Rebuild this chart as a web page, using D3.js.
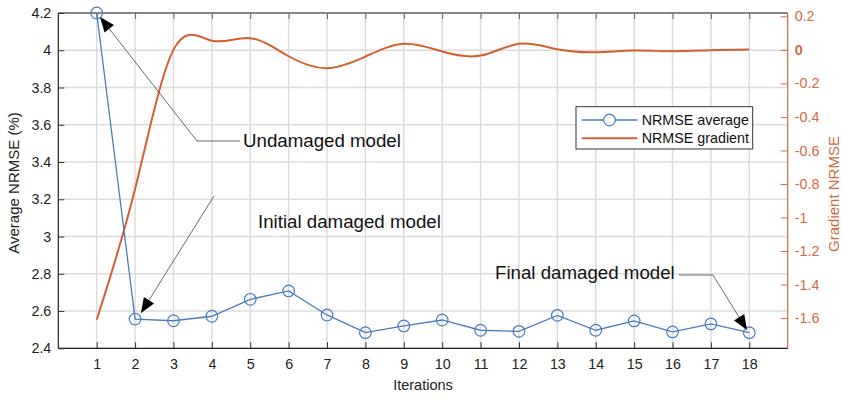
<!DOCTYPE html>
<html><head><meta charset="utf-8">
<script src="https://cdn.jsdelivr.net/npm/d3@7"></script>
<style>body{margin:0;background:#fff}svg{display:block;font-family:"Liberation Sans",Arial,Helvetica,sans-serif}</style>
</head><body><svg id="c" width="842" height="397"></svg>
<script>
const iterations = [1,2,3,4,5,6,7,8,9,10,11,12,13,14,15,16,17,18];
const nrmseAverage = [4.2,2.557,2.548,2.572,2.663,2.708,2.579,2.484,2.52,2.552,2.497,2.491,2.577,2.497,2.547,2.488,2.531,2.484];
const nrmseGradient = [-1.61,-0.83,0.0,0.055,0.07,-0.038,-0.109,-0.04,0.036,-0.01,-0.034,0.036,0.004,-0.014,-0.004,-0.008,-0.002,0.002];
const leftTicks = [2.4,2.6,2.8,3,3.2,3.4,3.6,3.8,4,4.2];
const rightTicks = [0.2,0,-0.2,-0.4,-0.6,-0.8,-1,-1.2,-1.4,-1.6];
const seriesNames = ["NRMSE average","NRMSE gradient"];
const annotations = [
  {text:"Undamaged model", pts:[[240,141],[197,141],[100,17]], tx:243, ty:147},
  {text:"Initial damaged model", pts:[[214,196],[141,313]], tx:258, ty:228},
  {text:"Final damaged model", pts:[[679,275],[713,275],[747,330]], tx:495, ty:279}
];

const blue = "#4a7cc0", orange = "#d4602f", orangeAx = "#d06a40";
const svg = d3.select("#c");
const L = 58.3, R = 787.7, T = 13, B = 348.3;
const x = d3.scaleLinear().domain([0,19]).range([L,R]);
const yL = d3.scaleLinear().domain([2.4,4.2]).range([B,T]);
const yR = d3.scaleLinear().domain([-1.78,0.22]).range([B,T]);

// grid
const g = svg.append("g").attr("stroke","#dcdcdc").attr("stroke-width",1.5);
iterations.forEach(i=>g.append("line").attr("x1",x(i)).attr("x2",x(i)).attr("y1",T).attr("y2",B));
leftTicks.forEach(v=>g.append("line").attr("x1",L).attr("x2",R).attr("y1",yL(v)).attr("y2",yL(v)));

// axes
const axBottom = svg.append("g").attr("transform",`translate(0,${B})`)
  .call(d3.axisBottom(x).tickValues(iterations).tickSize(-6).tickPadding(11).tickFormat(d3.format("d")));
axBottom.select(".domain").attr("stroke","#222").attr("stroke-width",1.2).attr("d",`M${L},0H${R}`);
axBottom.selectAll(".tick line").attr("stroke","#333");
axBottom.selectAll("text").attr("font-size",14.3).attr("fill","#222");

const axTop = svg.append("g").attr("transform",`translate(0,${T})`)
  .call(d3.axisTop(x).tickValues(iterations).tickSize(-6).tickFormat(""));
axTop.select(".domain").attr("stroke","#666").attr("stroke-width",1.5).attr("d",`M${L},0H${R}`);
axTop.selectAll(".tick line").attr("stroke","#666");

const axLeft = svg.append("g").attr("transform",`translate(${L},0)`)
  .call(d3.axisLeft(yL).tickValues(leftTicks).tickSize(-6).tickPadding(7).tickFormat(d=>String(d)));
axLeft.select(".domain").attr("stroke","#222").attr("stroke-width",1.2).attr("d",`M0,${T}V${B}`);
axLeft.selectAll(".tick line").attr("stroke","#333");
axLeft.selectAll("text").attr("font-size",14.3).attr("fill","#222");

const axRight = svg.append("g").attr("transform",`translate(${R},0)`)
  .call(d3.axisRight(yR).tickValues(rightTicks).tickSize(-7).tickPadding(7).tickFormat(d=>String(d)));
axRight.select(".domain").attr("stroke",orangeAx).attr("stroke-width",1.2).attr("d",`M0,${T}V${B}`);
axRight.selectAll(".tick line").attr("stroke",orangeAx);
axRight.selectAll("text").attr("font-size",14.3).attr("fill",orangeAx)
  .attr("font-weight",d=>d===0?"bold":"normal");

// axis titles
svg.append("text").attr("x",(L+R)/2).attr("y",390).attr("text-anchor","middle").attr("font-size",14.5).attr("fill","#222").text("Iterations");
svg.append("text").attr("transform",`translate(19,${183}) rotate(-90)`).attr("text-anchor","middle").attr("font-size",15).attr("fill","#222").text("Average NRMSE (%)");
svg.append("text").attr("transform",`translate(839,${194}) rotate(-90)`).attr("text-anchor","middle").attr("font-size",15).attr("fill",orangeAx).text("Gradient NRMSE");

// series
svg.append("path").datum(iterations.map((d,i)=>[d,nrmseGradient[i]]))
  .attr("fill","none").attr("stroke",orange).attr("stroke-width",2)
  .attr("d",d3.line().x(d=>x(d[0])).y(d=>yR(d[1])).curve(d3.curveNatural));
svg.append("path").datum(iterations.map((d,i)=>[d,nrmseAverage[i]]))
  .attr("fill","none").attr("stroke",blue).attr("stroke-width",1.3)
  .attr("d",d3.line().x(d=>x(d[0])).y(d=>yL(d[1])));
svg.selectAll("circle.m").data(iterations).enter().append("circle").attr("class","m")
  .attr("cx",d=>x(d)).attr("cy",(d,i)=>yL(nrmseAverage[i])).attr("r",5.8)
  .attr("fill","none").attr("stroke",blue).attr("stroke-width",1.2);

// annotations
annotations.forEach(a=>{
  svg.append("path").attr("d",d3.line()(a.pts)).attr("fill","none").attr("stroke","#444").attr("stroke-width",0.8);
  const p1=a.pts[a.pts.length-2], p2=a.pts[a.pts.length-1];
  const ang=Math.atan2(p2[1]-p1[1],p2[0]-p1[0]);
  const len=15, w=6;
  const bx=p2[0]-len*Math.cos(ang), by=p2[1]-len*Math.sin(ang);
  const px=-Math.sin(ang)*w, py=Math.cos(ang)*w;
  svg.append("path").attr("d",`M${p2[0]},${p2[1]}L${bx+px},${by+py}L${bx-px},${by-py}Z`).attr("fill","#000");
  svg.append("text").attr("x",a.tx).attr("y",a.ty).attr("font-size",18.7).attr("fill","#111").text(a.text);
});

// legend
const lg = svg.append("g");
lg.append("rect").attr("x",576).attr("y",106.7).attr("width",176.7).attr("height",42.3).attr("fill","#fff").attr("stroke","#333").attr("stroke-width",1);
[[blue,true,120],[orange,false,138.3]].forEach((e,i)=>{
  lg.append("line").attr("x1",581.7).attr("x2",637.3).attr("y1",e[2]).attr("y2",e[2]).attr("stroke",e[0]).attr("stroke-width",i?2:1.3);
  if(e[1]) lg.append("circle").attr("cx",609.5).attr("cy",e[2]).attr("r",5.8).attr("fill","#fff").attr("stroke",blue).attr("stroke-width",1.2);
  lg.append("text").attr("x",641.7).attr("y",e[2]+5).attr("font-size",14.3).attr("fill","#111").text(seriesNames[i]);
});
</script></body></html>
